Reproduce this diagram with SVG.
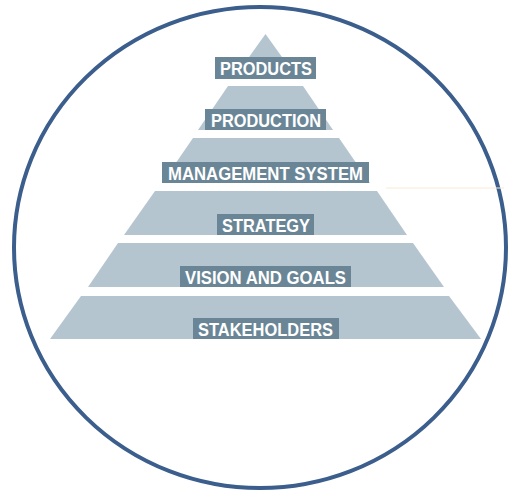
<svg xmlns="http://www.w3.org/2000/svg" width="508" height="490" viewBox="0 0 508 490">
<style>
.tier{fill:#b5c5d0}
.lbl{fill:#6a8696}
.txt{fill:#ffffff;font-family:"Liberation Sans",Arial,sans-serif;font-weight:bold;font-size:18px;text-anchor:middle}
</style>
<rect width="508" height="490" fill="#ffffff"/>
<ellipse cx="260" cy="247.5" rx="246" ry="240.5" fill="none" stroke="#3b5e8d" stroke-width="4"/>
<line x1="386" y1="188" x2="504" y2="188" stroke="#fbe8d4" stroke-width="1"/>
<g id="products">
<polygon class="tier" points="265.5,34 297,78 234,78"/>
<rect class="lbl" x="215" y="57" width="101" height="22"/>
<text class="txt" x="266" y="75" textLength="92" lengthAdjust="spacingAndGlyphs">PRODUCTS</text>
</g>
<g id="production">
<polygon class="tier" points="228,86 303,86 333,130 198,130"/>
<rect class="lbl" x="205" y="109" width="121" height="21"/>
<text class="txt" x="266" y="127" textLength="110" lengthAdjust="spacingAndGlyphs">PRODUCTION</text>
</g>
<g id="management">
<polygon class="tier" points="193,138 339,138 370,183 162,183"/>
<rect class="lbl" x="162" y="162" width="207" height="21"/>
<text class="txt" x="265.5" y="180" textLength="195" lengthAdjust="spacingAndGlyphs">MANAGEMENT SYSTEM</text>
</g>
<g id="strategy">
<polygon class="tier" points="155,191 377,191 407,235 124,235"/>
<rect class="lbl" x="217" y="214" width="97" height="21"/>
<text class="txt" x="266" y="232" textLength="88" lengthAdjust="spacingAndGlyphs">STRATEGY</text>
</g>
<g id="vision">
<polygon class="tier" points="118,243 413,243 444,287 88,287"/>
<rect class="lbl" x="180" y="266" width="171" height="21"/>
<text class="txt" x="265.5" y="284" textLength="161" lengthAdjust="spacingAndGlyphs">VISION AND GOALS</text>
</g>
<g id="stakeholders">
<polygon class="tier" points="81,296 449,296 481,339 50,339"/>
<rect class="lbl" x="193" y="318" width="146" height="21"/>
<text class="txt" x="265.5" y="336" textLength="135" lengthAdjust="spacingAndGlyphs">STAKEHOLDERS</text>
</g>
<g id="connectors"></g>
</svg>
